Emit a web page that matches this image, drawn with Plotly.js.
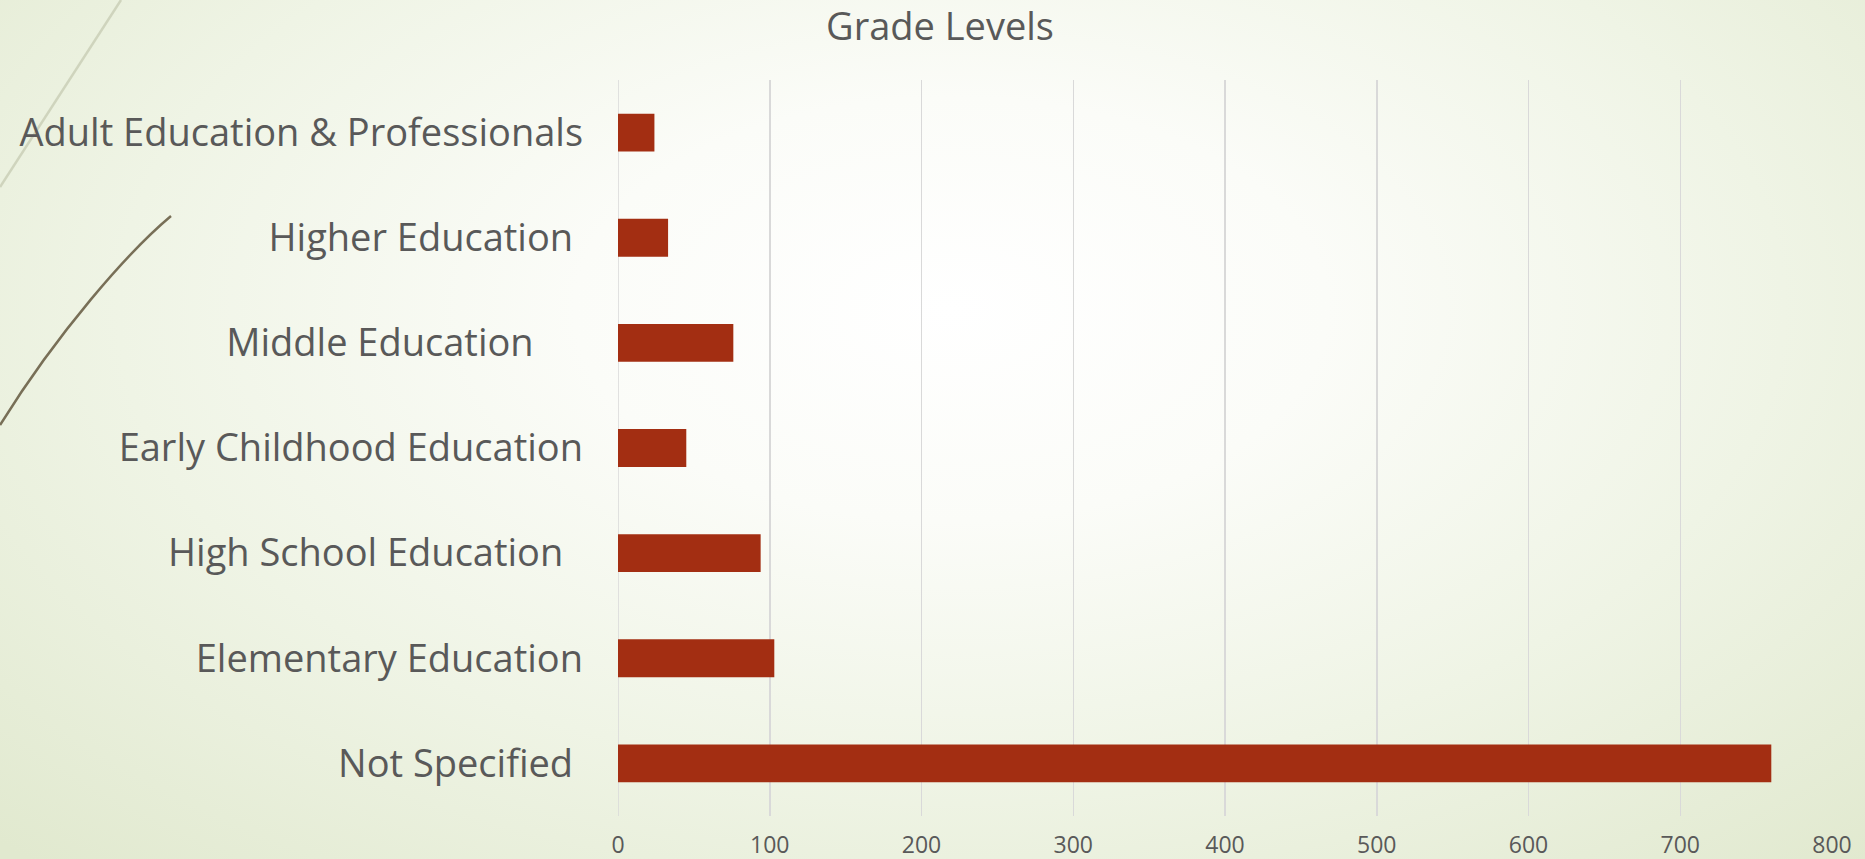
<!DOCTYPE html>
<html>
<head>
<meta charset="utf-8">
<script src="https://cdn.plot.ly/plotly-3.0.1.min.js"></script>
<style>
  html, body { margin: 0; padding: 0; width: 1865px; height: 859px; overflow: hidden; }
  body {
    background: radial-gradient(ellipse 72% 88% at 51% 36%, #ffffff 0%, #fbfcf8 28%, #eff4e5 62%, #e1e9cf 100%);
    position: relative;
  }
  #deco { position: absolute; left: 0; top: 0; z-index: 0; }
  #chart { position: absolute; left: 0; top: 0; width: 1865px; height: 859px; z-index: 1; }
</style>
</head>
<body>
<svg id="deco" width="1865" height="859" xmlns="http://www.w3.org/2000/svg">
  <path d="M121,0 L0,187" stroke="#cfd4bd" stroke-width="2.5" fill="none"/>
  <path d="M171,216 C128,252 58,332 0,425" stroke="#786f57" stroke-width="2.5" fill="none"/>
</svg>
<div id="chart"></div>
<script>
// Categories listed top to bottom as in the reference
const categories = [
  "Adult Education & Professionals",
  "Higher Education",
  "Middle Education",
  "Early Childhood Education",
  "High School Education",
  "Elementary Education",
  "Not Specified"
];
const tickLabels = [
  "Adult Education & Professionals",
  "Higher Education\u00A0",
  "Middle Education\u00A0\u00A0\u00A0\u00A0\u00A0",
  "Early Childhood Education",
  "High School Education\u00A0\u00A0",
  "Elementary Education",
  "Not Specified\u00A0"
];
const values = [24, 33, 76, 45, 94, 103, 760];
const xTickValues = [0, 100, 200, 300, 400, 500, 600, 700, 800];

const fontFamily = "'Open Sans', Lato, 'DejaVu Sans', sans-serif";
const textColor = "#595959";

const trace = {
  type: "bar",
  orientation: "h",
  x: values,
  y: categories,
  width: 0.36,
  marker: { color: "#a32e12", line: { width: 0 } },
  hoverinfo: "skip"
};

const layout = {
  width: 1865,
  height: 859,
  paper_bgcolor: "rgba(0,0,0,0)",
  plot_bgcolor: "rgba(0,0,0,0)",
  margin: { l: 618, r: 33, t: 80, b: 43, pad: 0 },
  showlegend: false,
  title: {
    text: "Grade Levels",
    font: { family: fontFamily, size: 38, color: textColor },
    x: 940 / 1865,
    xanchor: "center",
    xref: "container",
    y: 1 - 27 / 859,
    yanchor: "middle",
    yref: "container"
  },
  xaxis: {
    range: [0, 800],
    tickvals: xTickValues,
    ticktext: xTickValues.map(String),
    showgrid: true,
    gridcolor: "#d9d9d9",
    gridwidth: 1.5,
    zeroline: false,
    showline: false,
    ticks: "",
    tickfont: { family: fontFamily, size: 23, color: textColor },
    ticklabelstandoff: 13,
    fixedrange: true
  },
  yaxis: {
    type: "category",
    categoryorder: "array",
    categoryarray: categories,
    tickvals: categories,
    ticktext: tickLabels,
    autorange: "reversed",
    showgrid: false,
    zeroline: false,
    showline: false,
    ticks: "",
    tickfont: { family: fontFamily, size: 38, color: textColor },
    ticklabelstandoff: 34,
    fixedrange: true
  },
  shapes: [
    { type: "line", xref: "x", yref: "paper", x0: 0, x1: 0, y0: 0, y1: 1,
      line: { color: "#d9d9d9", width: 1.5 }, layer: "below" }
  ]
};

Plotly.newPlot("chart", [trace], layout, { staticPlot: true, displayModeBar: false });
</script>
</body>
</html>
